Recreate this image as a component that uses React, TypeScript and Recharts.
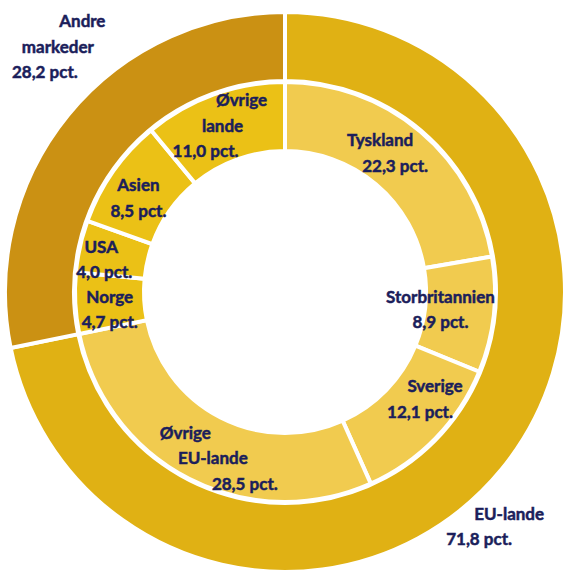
import React from 'react';
import { PieChart, Pie, Cell } from 'recharts';

// ---- data ----
const outerNames = ['EU-lande', 'Andre markeder'];
const outerValues = [71.8, 28.2];
const innerNames = ['Tyskland', 'Storbritannien', 'Sverige', 'Øvrige EU-lande', 'Norge', 'USA', 'Asien', 'Øvrige lande'];
const innerValues = [22.3, 8.9, 12.1, 28.5, 4.7, 4.0, 8.5, 11.0];
const innerGroup = ['EU', 'EU', 'EU', 'EU', 'other', 'other', 'other', 'other'];
const nameLines: Record<string, string[]> = {
  'Øvrige EU-lande': ['Øvrige', 'EU-lande'],
  'Øvrige lande': ['Øvrige', 'lande'],
  'Andre markeder': ['Andre', 'markeder'],
};

// ---- styles / label layout ----
const COLORS = {
  outerEU: '#E0B114',
  outerOther: '#CB9113',
  innerEU: '#F1CB4F',
  innerOther: '#EBC116',
  text: '#1B1E5B',
};
const LABEL_LAYOUT: Record<string, { dx: number; dy: number; lines: number[] }> = {
  'Tyskland': { dx: -10, dy: -5, lines: [-8, 7] },
  'Storbritannien': { dx: -19, dy: -2, lines: [0, 0] },
  'Sverige': { dx: 17, dy: -15, lines: [7, -8] },
  'Øvrige EU-lande': { dx: 10, dy: 10, lines: [-29.5, -2, 30] },
  'Norge': { dx: 0, dy: 8, lines: [0, 0] },
  'USA': { dx: -11, dy: 6, lines: [-1.5, 1.5] },
  'Asien': { dx: -3, dy: 7, lines: [0, 0] },
  'Øvrige lande': { dx: -2, dy: -1, lines: [18, -1, -18] },
  'EU-lande': { dx: 19, dy: 79, lines: [15, -15] },
  'Andre markeder': { dx: -34, dy: -90, lines: [21.5, -3, -16] },
};
const LINE_H = 25.5;
const RADIAN = Math.PI / 180;

const outerData = outerNames.map((name, i) => ({ name, value: outerValues[i] }));
const innerData = innerNames.map((name, i) => ({ name, value: innerValues[i], group: innerGroup[i] }));

const fmt = (v: number) => v.toFixed(1).replace('.', ',') + ' pct.';

const renderLabel = (props: any) => {
  const { cx, cy, midAngle, innerRadius, outerRadius, name, value } = props;
  const r = (innerRadius + outerRadius) / 2;
  const layout = LABEL_LAYOUT[name] || { dx: 0, dy: 0, lines: [] };
  const ax = cx + r * Math.cos(-midAngle * RADIAN) + layout.dx;
  const ay = cy + r * Math.sin(-midAngle * RADIAN) + layout.dy;
  const lines = [...(nameLines[name] || [name]), fmt(value)];
  const n = lines.length;
  return (
    <g>
      {lines.map((t, i) => (
        <text
          key={i}
          x={ax + (layout.lines[i] || 0)}
          y={ay + (i - (n - 1) / 2) * LINE_H + 6}
          textAnchor="middle"
          fill={COLORS.text}
          stroke={COLORS.text}
          strokeWidth={0.5}
          fontFamily="Lato, 'Open Sans', sans-serif"
          fontWeight={700}
          fontSize={17}
        >
          {t}
        </text>
      ))}
    </g>
  );
};

export default function App() {
  return (
    <div style={{ position: 'absolute', left: 0, top: 0, width: 565, height: 572, background: '#fff' }}>
      <PieChart width={565} height={572} margin={{ top: 0, right: 0, bottom: 0, left: 0 }}>
        <Pie
          data={outerData}
          dataKey="value"
          nameKey="name"
          cx={285}
          cy={292}
          innerRadius={211}
          outerRadius={280}
          startAngle={90}
          endAngle={-270}
          stroke="#ffffff"
          strokeWidth={4}
          label={renderLabel}
          labelLine={false}
          isAnimationActive={false}
        >
          {outerData.map((d, i) => (
            <Cell key={i} fill={i === 0 ? COLORS.outerEU : COLORS.outerOther} />
          ))}
        </Pie>
        <Pie
          data={innerData}
          dataKey="value"
          nameKey="name"
          cx={285}
          cy={292}
          innerRadius={141}
          outerRadius={210}
          startAngle={90}
          endAngle={-270}
          stroke="#ffffff"
          strokeWidth={4}
          label={renderLabel}
          labelLine={false}
          isAnimationActive={false}
        >
          {innerData.map((d, i) => (
            <Cell key={i} fill={d.group === 'EU' ? COLORS.innerEU : COLORS.innerOther} />
          ))}
        </Pie>
      </PieChart>
    </div>
  );
}
